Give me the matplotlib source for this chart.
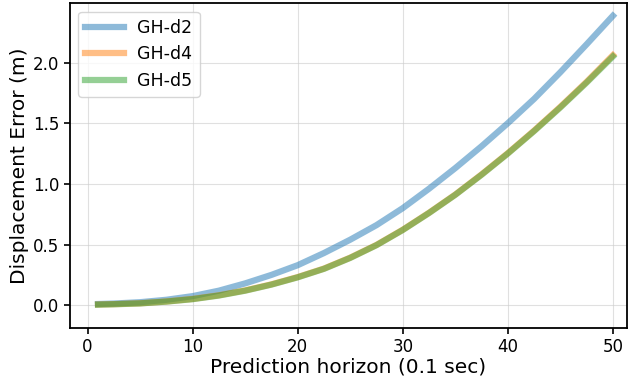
import numpy as np
import matplotlib
matplotlib.use("Agg")
import matplotlib.pyplot as plt

#===========================
# DATA
#===========================
horizon = [1, 2.5, 5, 7.5, 10, 12.5, 15, 17.5, 20, 22.5, 25,
           27.5, 30, 32.5, 35, 37.5, 40, 42.5, 45, 47.5, 50]
gh_d2 = [0.010, 0.014, 0.025, 0.045, 0.075, 0.12, 0.18, 0.25, 0.33, 0.43, 0.54,
         0.66, 0.80, 0.96, 1.13, 1.31, 1.50, 1.70, 1.92, 2.15, 2.385]
gh_d4 = [0.006, 0.009, 0.016, 0.031, 0.052, 0.082, 0.122, 0.172, 0.232, 0.302, 0.392,
         0.497, 0.622, 0.762, 0.912, 1.078, 1.253, 1.439, 1.635, 1.841, 2.06]
gh_d5 = [0.005, 0.008, 0.015, 0.030, 0.050, 0.080, 0.120, 0.170, 0.23, 0.30, 0.39,
         0.495, 0.62, 0.76, 0.91, 1.075, 1.25, 1.435, 1.63, 1.835, 2.05]
labels = ["GH-d2", "GH-d4", "GH-d5"]

#===========================
# PLOT
#===========================
fig = plt.figure(figsize=(6.4, 3.8), dpi=100)
ax = fig.add_axes([0.109, 0.137, 0.871, 0.855])

for ys, lab in zip([gh_d2, gh_d4, gh_d5], labels):
    ax.plot(horizon, ys, linewidth=4.5, alpha=0.5, label=lab,
            solid_capstyle='projecting', solid_joinstyle='round')

ax.set_xlim(-1.69, 51.36)
ax.set_ylim(-0.187, 2.49)
ax.set_xticks([0, 10, 20, 30, 40, 50])
ax.set_yticks([0.0, 0.5, 1.0, 1.5, 2.0])
ax.tick_params(labelsize=12, width=1.2, length=4)
ax.grid(True, color='#cccccc', alpha=0.6, linewidth=0.8)
for sp in ax.spines.values():
    sp.set_linewidth(1.3)

ax.set_xlabel("Prediction horizon (0.1 sec)", fontsize=14.5, labelpad=1)
ax.set_ylabel("Displacement Error (m)", fontsize=14.5, labelpad=3)
ax.legend(loc='upper left', fontsize=12.5, handlelength=2.2)

fig.savefig("out.png", dpi=100)
